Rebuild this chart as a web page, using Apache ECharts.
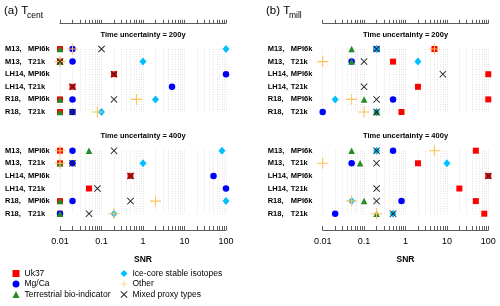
<!DOCTYPE html>
<html>
<head>
<meta charset="utf-8">
<script src="https://cdn.jsdelivr.net/npm/echarts@6/dist/echarts.min.js"></script>
<style>html,body{margin:0;padding:0;background:#fff}#c{width:500px;height:306px}</style>
</head>
<body>
<div id="c"></div>
<script>
// ---------- data ----------
const rowDatasets = ['M13', 'M13', 'LH14', 'LH14', 'R18', 'R18'];
const rowModels = ['MPI6k', 'T21k', 'MPI6k', 'T21k', 'MPI6k', 'T21k'];
const snrTickLabels = [0.01, 0.1, 1, 10, 100];
const panelTitles = ['(a) T', '(b) T'];
const panelSubs = ['cent', 'mill'];
const uncertaintyLabels = ['Time uncertainty = 200y', 'Time uncertainty = 400y'];
const proxyNames = ['Uk37', 'Mg/Ca', 'Ice-core stable isotopes', 'Terrestrial bio-indicator', 'Other', 'Mixed proxy types'];

// (a) T_cent, 200y
const cent200Uk37  = [0.01, 0.01, 0.2, 0.02, 0.01, 0.01];
const cent200MgCa  = [0.02, 0.02, 100, 5, 0.02, 0.02];
const cent200Ice   = [100, 1, null, null, 2, 0.1];
const cent200Terr  = [0.01, 0.01, null, null, 0.01, 0.01];
const cent200Other = [0.02, 0.01, null, null, 0.7, 0.08];
const cent200Mixed = [0.1, 0.01, 0.2, 0.02, 0.2, 0.02];
// (a) T_cent, 400y
const cent400Uk37  = [0.01, 0.01, 0.5, 0.05, 0.01, 0.01];
const cent400MgCa  = [0.02, 0.02, 50, 100, 0.02, 0.01];
const cent400Ice   = [80, 1, null, null, 100, 0.2];
const cent400Terr  = [0.05, 0.01, null, null, 0.01, 0.01];
const cent400Other = [0.01, 0.01, null, null, 2, 0.2];
const cent400Mixed = [0.2, 0.02, 0.5, 0.08, 0.5, 0.05];
// (b) T_mill, 200y
const mill200Uk37  = [5, 0.5, 100, 2, 100, 0.8];
const mill200MgCa  = [0.2, 0.05, null, null, 0.5, 0.01];
const mill200Ice   = [0.2, 2, null, null, 0.02, 0.2];
const mill200Terr  = [0.05, 0.05, null, null, 0.1, 0.2];
const mill200Other = [5, 0.01, null, null, 0.05, 0.1];
const mill200Mixed = [0.2, 0.1, 8, 0.1, 0.2, 0.2];
// (b) T_mill, 400y
const mill400Uk37  = [50, 2, 100, 20, 50, 80];
const mill400MgCa  = [0.5, 0.05, null, null, 0.8, 0.02];
const mill400Ice   = [0.2, 10, null, null, 0.05, 0.5];
const mill400Terr  = [0.05, 0.08, null, null, 0.1, 0.2];
const mill400Other = [5, 0.01, null, null, 0.05, 0.2];
const mill400Mixed = [0.2, 0.2, 100, 0.2, 0.2, 0.5];

// ---------- styling ----------
const FONT = '"Liberation Sans", Arial, Helvetica, sans-serif';
const PLUS = 'path://M4.5,0H5.5V4.5H10V5.5H5.5V10H4.5V5.5H0V4.5H4.5Z';
const CROSS = 'path://M0.9,0L5,4.1L9.1,0L10,0.9L5.9,5L10,9.1L9.1,10L5,5.9L0.9,10L0,9.1L4.1,5L0,0.9Z';
const proxyStyle = {
  'Uk37': {symbol: 'rect', size: 6, color: '#FF0000'},
  'Mg/Ca': {symbol: 'circle', size: 6.5, color: '#0000FF'},
  'Ice-core stable isotopes': {symbol: 'diamond', size: [7, 8], color: '#00BFFF'},
  'Terrestrial bio-indicator': {symbol: 'triangle', size: 6.5, color: '#228B22'},
  'Other': {symbol: PLUS, size: 11, color: '#FFC25A'},
  'Mixed proxy types': {symbol: CROSS, size: 7, color: '#222222'}
};

const panelData = [
  [cent200Uk37, cent200MgCa, cent200Ice, cent200Terr, cent200Other, cent200Mixed],
  [cent400Uk37, cent400MgCa, cent400Ice, cent400Terr, cent400Other, cent400Mixed],
  [mill200Uk37, mill200MgCa, mill200Ice, mill200Terr, mill200Other, mill200Mixed],
  [mill400Uk37, mill400MgCa, mill400Ice, mill400Terr, mill400Other, mill400Mixed]
];

// log tick positions (1..9 x each decade)
const logTicks = [];
for (let k = -2; k <= 1; k++) for (let m = 1; m <= 9; m++) logTicks.push(Number((m * Math.pow(10, k)).toPrecision(4)));
logTicks.push(100);

const rowCats = rowDatasets.map((d, i) => d + ',' + rowModels[i]);

const grids = [
  {left: 60, top: 42.7, width: 166, height: 75.6},
  {left: 60, top: 144.4, width: 166, height: 75.6},
  {left: 322.7, top: 42.7, width: 165.6, height: 75.6},
  {left: 322.7, top: 144.4, width: 165.6, height: 75.6}
].map(g => Object.assign({containLabel: false, outerBoundsMode: 'none'}, g));

const axisLineStyle = {color: '#333', width: 0.8};
const xAxes = grids.map((g, i) => {
  const isTop = (i % 2 === 0);
  const ax = {
    type: 'log', logBase: 10, gridIndex: i, min: 0.01, max: 100,
    position: isTop ? 'top' : 'bottom',
    offset: isTop ? 19.4 : 10,
    axisLine: {show: true, lineStyle: axisLineStyle},
    axisTick: {show: true, inside: !isTop, length: isTop ? 3.5 : 4, customValues: logTicks, lineStyle: axisLineStyle},
    splitLine: {show: false},
    minorTick: {show: false},
    axisLabel: {show: false}
  };
  if (!isTop) {
    ax.axisLabel = {show: true, customValues: snrTickLabels, margin: 7, fontSize: 9, color: '#000', fontFamily: FONT,
      formatter: v => String(v)};
    ax.name = 'SNR';
    ax.nameLocation = 'middle';
    ax.nameGap = 25;
    ax.nameTextStyle = {fontSize: 8.5, fontWeight: 'bold', color: '#000', fontFamily: FONT};
  }
  return ax;
});

const yAxes = grids.map((g, i) => ({
  type: 'category', gridIndex: i, data: rowCats, inverse: true,
  axisLine: {show: false}, axisTick: {show: false}, splitLine: {show: false},
  axisLabel: {
    show: true, interval: 0, align: 'left', margin: 55, fontFamily: FONT, hideOverlap: false,
    formatter: v => { const p = v.split(','); return '{d|' + p[0] + ',}{m|' + p[1] + '}'; },
    rich: {
      d: {width: 23, fontWeight: 'bold', fontSize: 7.5, color: '#000', fontFamily: FONT},
      m: {fontWeight: 'bold', fontSize: 7.5, color: '#000', fontFamily: FONT}
    }
  }
}));

const series = [];
panelData.forEach((arrs, g) => {
  arrs.forEach((vals, t) => {
    const name = proxyNames[t];
    const st = proxyStyle[name];
    const data = [];
    vals.forEach((v, i) => { if (v != null) data.push([v, i]); });
    const s = {
      type: 'scatter', name, xAxisIndex: g, yAxisIndex: g,
      symbol: st.symbol, symbolSize: st.size,
      itemStyle: {color: st.color, opacity: 1},
      data, z: 3 + t, silent: true, animation: false
    };
    if (t === 0) {
      s.markLine = {
        silent: true, symbol: ['none', 'none'], label: {show: false}, z: 1, animation: false,
        lineStyle: {color: '#d0d0d0', type: [1, 1.5], width: 0.6},
        emphasis: {disabled: true},
        data: logTicks.map(v => [{coord: [v, 0]}, {coord: [v, rowCats.length - 1]}])
      };
    }
    series.push(s);
  });
});

const legendBase = {
  orient: 'vertical', itemWidth: 7, itemHeight: 7, itemGap: 1.5, selectedMode: false, padding: 0,
  textStyle: {fontSize: 8.5, color: '#000', fontFamily: FONT}
};

const graphics = [];
[0, 1].forEach(p => {
  const x0 = p === 0 ? 4 : 266;
  graphics.push({type: 'text', left: x0, top: 5, style: {text: panelTitles[p], fontSize: 11.5, fill: '#000', fontFamily: FONT}});
  graphics.push({type: 'text', left: x0 + 23, top: 11, style: {text: panelSubs[p], fontSize: 8.5, fill: '#000', fontFamily: FONT}});
  const cx = p === 0 ? 143 : 405.5;
  [35, 136].forEach((y, j) => {
    graphics.push({type: 'text', x: cx, y: y, style: {text: uncertaintyLabels[j], fontSize: 7.5, fontWeight: 'bold',
      fill: '#000', fontFamily: FONT, align: 'center', verticalAlign: 'middle'}});
  });
});

const chart = echarts.init(document.getElementById('c'), null, {renderer: 'canvas'});
chart.setOption({
  animation: false,
  backgroundColor: '#fff',
  textStyle: {fontFamily: FONT},
  grid: grids,
  xAxis: xAxes,
  yAxis: yAxes,
  legend: [
    Object.assign({}, legendBase, {left: 12.5, top: 269, data: ['Uk37', 'Mg/Ca', 'Terrestrial bio-indicator']}),
    Object.assign({}, legendBase, {left: 120.5, top: 269, data: ['Ice-core stable isotopes', 'Other', 'Mixed proxy types']})
  ],
  graphic: graphics,
  series
});
</script>
</body>
</html>
